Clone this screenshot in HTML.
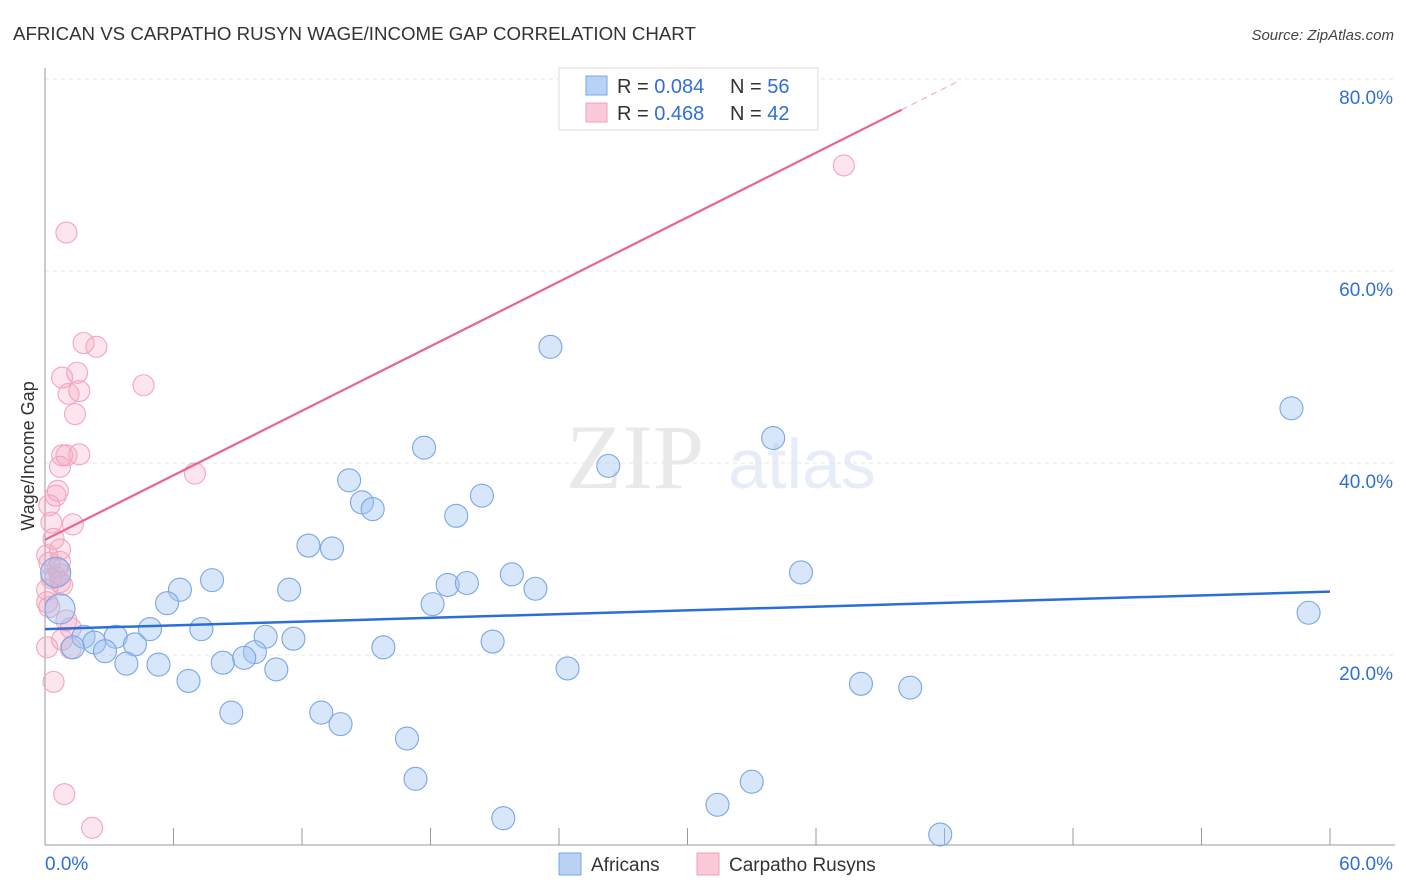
<!DOCTYPE html>
<html><head><meta charset="utf-8"><style>
body{margin:0;background:#fff;font-family:"Liberation Sans",sans-serif}
svg{display:block}
</style></head><body>
<svg id="chart" width="1406" height="892" xmlns="http://www.w3.org/2000/svg" font-family="Liberation Sans, sans-serif">
<text x="13" y="40" font-size="18.7" fill="#333">AFRICAN VS CARPATHO RUSYN WAGE/INCOME GAP CORRELATION CHART</text>
<text x="1394" y="40" font-size="15" font-style="italic" fill="#444" text-anchor="end">Source: ZipAtlas.com</text>
<g opacity="0.18">
<text x="635" y="488" font-size="92" font-family="Liberation Serif, serif" fill="#888" text-anchor="middle">ZIP</text>
<text x="802" y="488" font-size="70" fill="#7aa0e0" text-anchor="middle">atlas</text>
</g>
<g id="grid"></g>
<g id="axes"></g>
<g id="marks"></g>
<g id="lines"></g>
<text transform="translate(34,456) rotate(-90)" font-size="18" fill="#333" text-anchor="middle">Wage/Income Gap</text>
<g>
<rect x="559" y="68" width="259" height="62" fill="#fff" stroke="#ddd"/>
<rect x="586" y="76" width="21" height="19" fill="#b8d2f5" stroke="#7aa6e6"/>
<rect x="586" y="103" width="21" height="19" fill="#fbc9d8" stroke="#f0a0b8"/>
<text x="617" y="93" font-size="20" fill="#333">R = <tspan fill="#2f6fd6">0.084</tspan></text>
<text x="730" y="93" font-size="20" fill="#333">N = <tspan fill="#2f6fd6">56</tspan></text>
<text x="617" y="120" font-size="20" fill="#333">R = <tspan fill="#2f6fd6">0.468</tspan></text>
<text x="730" y="120" font-size="20" fill="#333">N = <tspan fill="#2f6fd6">42</tspan></text>
</g>
<g>
<rect x="559" y="853" width="22" height="22" fill="#b8d2f5" stroke="#7aa6e6"/>
<text x="591" y="871" font-size="19" fill="#333">Africans</text>
<rect x="697" y="853" width="22" height="22" fill="#fbc9d8" stroke="#f0a0b8"/>
<text x="729" y="871" font-size="19" fill="#333">Carpatho Rusyns</text>
</g>
</svg>
<script>
const yTicks=[20,40,60,80];
const yTickLabels=["20.0%","40.0%","60.0%","80.0%"];
const xTicks=[0,6,12,18,24,30,36,42,48,54,60];
const africanX=[23.6,58.2,17.7,34.0,26.3,14.2,14.8,15.3,19.2,20.4,12.3,13.4,35.3,21.8,18.8,19.7,22.9,7.8,6.3,11.4,5.7,18.1,59.0,4.9,7.3,10.3,11.6,3.3,1.8,2.3,4.2,20.9,1.3,2.8,15.8,9.8,9.3,8.3,3.8,5.3,10.8,24.4,6.7,38.1,40.4,8.7,12.9,13.8,16.9,17.3,33.0,31.4,21.4,41.8,0.7,0.5];
const africanY=[52.1,45.7,41.6,42.6,39.7,38.2,35.9,35.2,34.5,36.6,31.4,31.1,28.6,28.4,27.3,27.5,26.9,27.8,26.8,26.8,25.4,25.3,24.4,22.7,22.7,21.9,21.7,21.9,21.9,21.3,21.1,21.4,20.8,20.4,20.8,20.3,19.7,19.2,19.1,19.0,18.5,18.6,17.3,17.0,16.6,14.0,14.0,12.8,11.3,7.1,6.8,4.4,3.0,1.3,24.8,28.6];
const rusynX=[37.3,1.0,1.8,2.4,1.5,0.8,4.6,1.6,1.1,1.4,0.8,1.0,1.6,0.7,7.0,0.6,0.5,0.2,1.3,0.3,0.4,0.7,0.1,0.7,0.6,0.7,0.3,0.7,0.1,0.2,1.0,1.2,0.8,1.2,0.1,0.4,0.9,2.2,0.1,0.5,0.8,0.2];
const rusynY=[71.0,64.0,52.5,52.1,49.4,48.9,48.1,47.5,47.2,45.1,40.8,40.8,40.9,39.6,38.9,37.1,36.6,35.6,33.6,33.8,32.1,31.0,30.4,29.7,29.1,28.4,28.0,27.6,26.8,25.0,23.6,22.8,21.6,20.7,20.8,17.2,5.5,2.0,25.5,28.1,27.3,29.6];
const africanTrend=[22.7,26.6];
const rusynTrend=[32.0,76.8,40];
const NS="http://www.w3.org/2000/svg";
const X=v=>45+v/60*1285, Y=v=>847-v*9.6;
function mk(t,a,p){const e=document.createElementNS(NS,t);for(const k in a)e.setAttribute(k,a[k]);p.appendChild(e);return e;}
const grid=document.getElementById('grid'),axes=document.getElementById('axes'),marks=document.getElementById('marks'),lines=document.getElementById('lines');
yTicks.forEach((t,i)=>{
 const l=mk('line',{x1:45,x2:1395,y1:Y(t),y2:Y(t),stroke:'#e6e6e6','stroke-dasharray':'4,4'},grid);
 
 
 const tx=mk('text',{x:1393,y:Y(t)+25,'font-size':19,fill:'#2f6fd6','text-anchor':'end'},axes);
 tx.textContent=yTickLabels[i];
 
 
});
mk('line',{x1:45,x2:45,y1:68,y2:845,stroke:'#999'},axes);
mk('line',{x1:45,x2:1395,y1:845,y2:845,stroke:'#999'},axes);
xTicks.forEach(t=>{const l=mk('line',{x1:X(t),x2:X(t),y1:828,y2:845,stroke:'#999'},axes);
 
 });
const x0=mk('text',{x:45,y:870,'font-size':19,fill:'#2f6fd6'},axes);x0.textContent='0.0%';
const x1=mk('text',{x:1393,y:870,'font-size':19,fill:'#2f6fd6','text-anchor':'end'},axes);x1.textContent='60.0%';
rusynX.forEach((v,i)=>{const c=mk('circle',{cx:X(v),cy:Y(rusynY[i]),r:10.5,fill:'rgba(245,160,190,0.28)',stroke:'#f2a6bd','stroke-width':1.1},marks);
 
 });
africanX.forEach((v,i)=>{const big=i>=54;const c=mk('circle',{cx:X(v),cy:Y(africanY[i]),r:big?15:11.5,fill:'rgba(160,195,240,0.42)',stroke:'#7ba6e4','stroke-width':1.1},marks);
 
 });
const bl=mk('line',{x1:X(0),y1:Y(africanTrend[0]),x2:X(60),y2:Y(africanTrend[1]),stroke:'#2a6fd6','stroke-width':2.5},lines);


const slope=(rusynTrend[1]-rusynTrend[0])/rusynTrend[2];
const pl=mk('line',{x1:X(0),y1:Y(rusynTrend[0]),x2:X(rusynTrend[2]),y2:Y(rusynTrend[1]),stroke:'#e8658f','stroke-width':2.2},lines);


const xe=(79.9-rusynTrend[0])/slope;
const pd=mk('line',{x1:X(rusynTrend[2]),y1:Y(rusynTrend[1]),x2:X(xe),y2:Y(79.9),stroke:'#e8658f','stroke-width':1.2,'stroke-dasharray':'6,5',opacity:0.5},lines);


</script>
</body></html>
